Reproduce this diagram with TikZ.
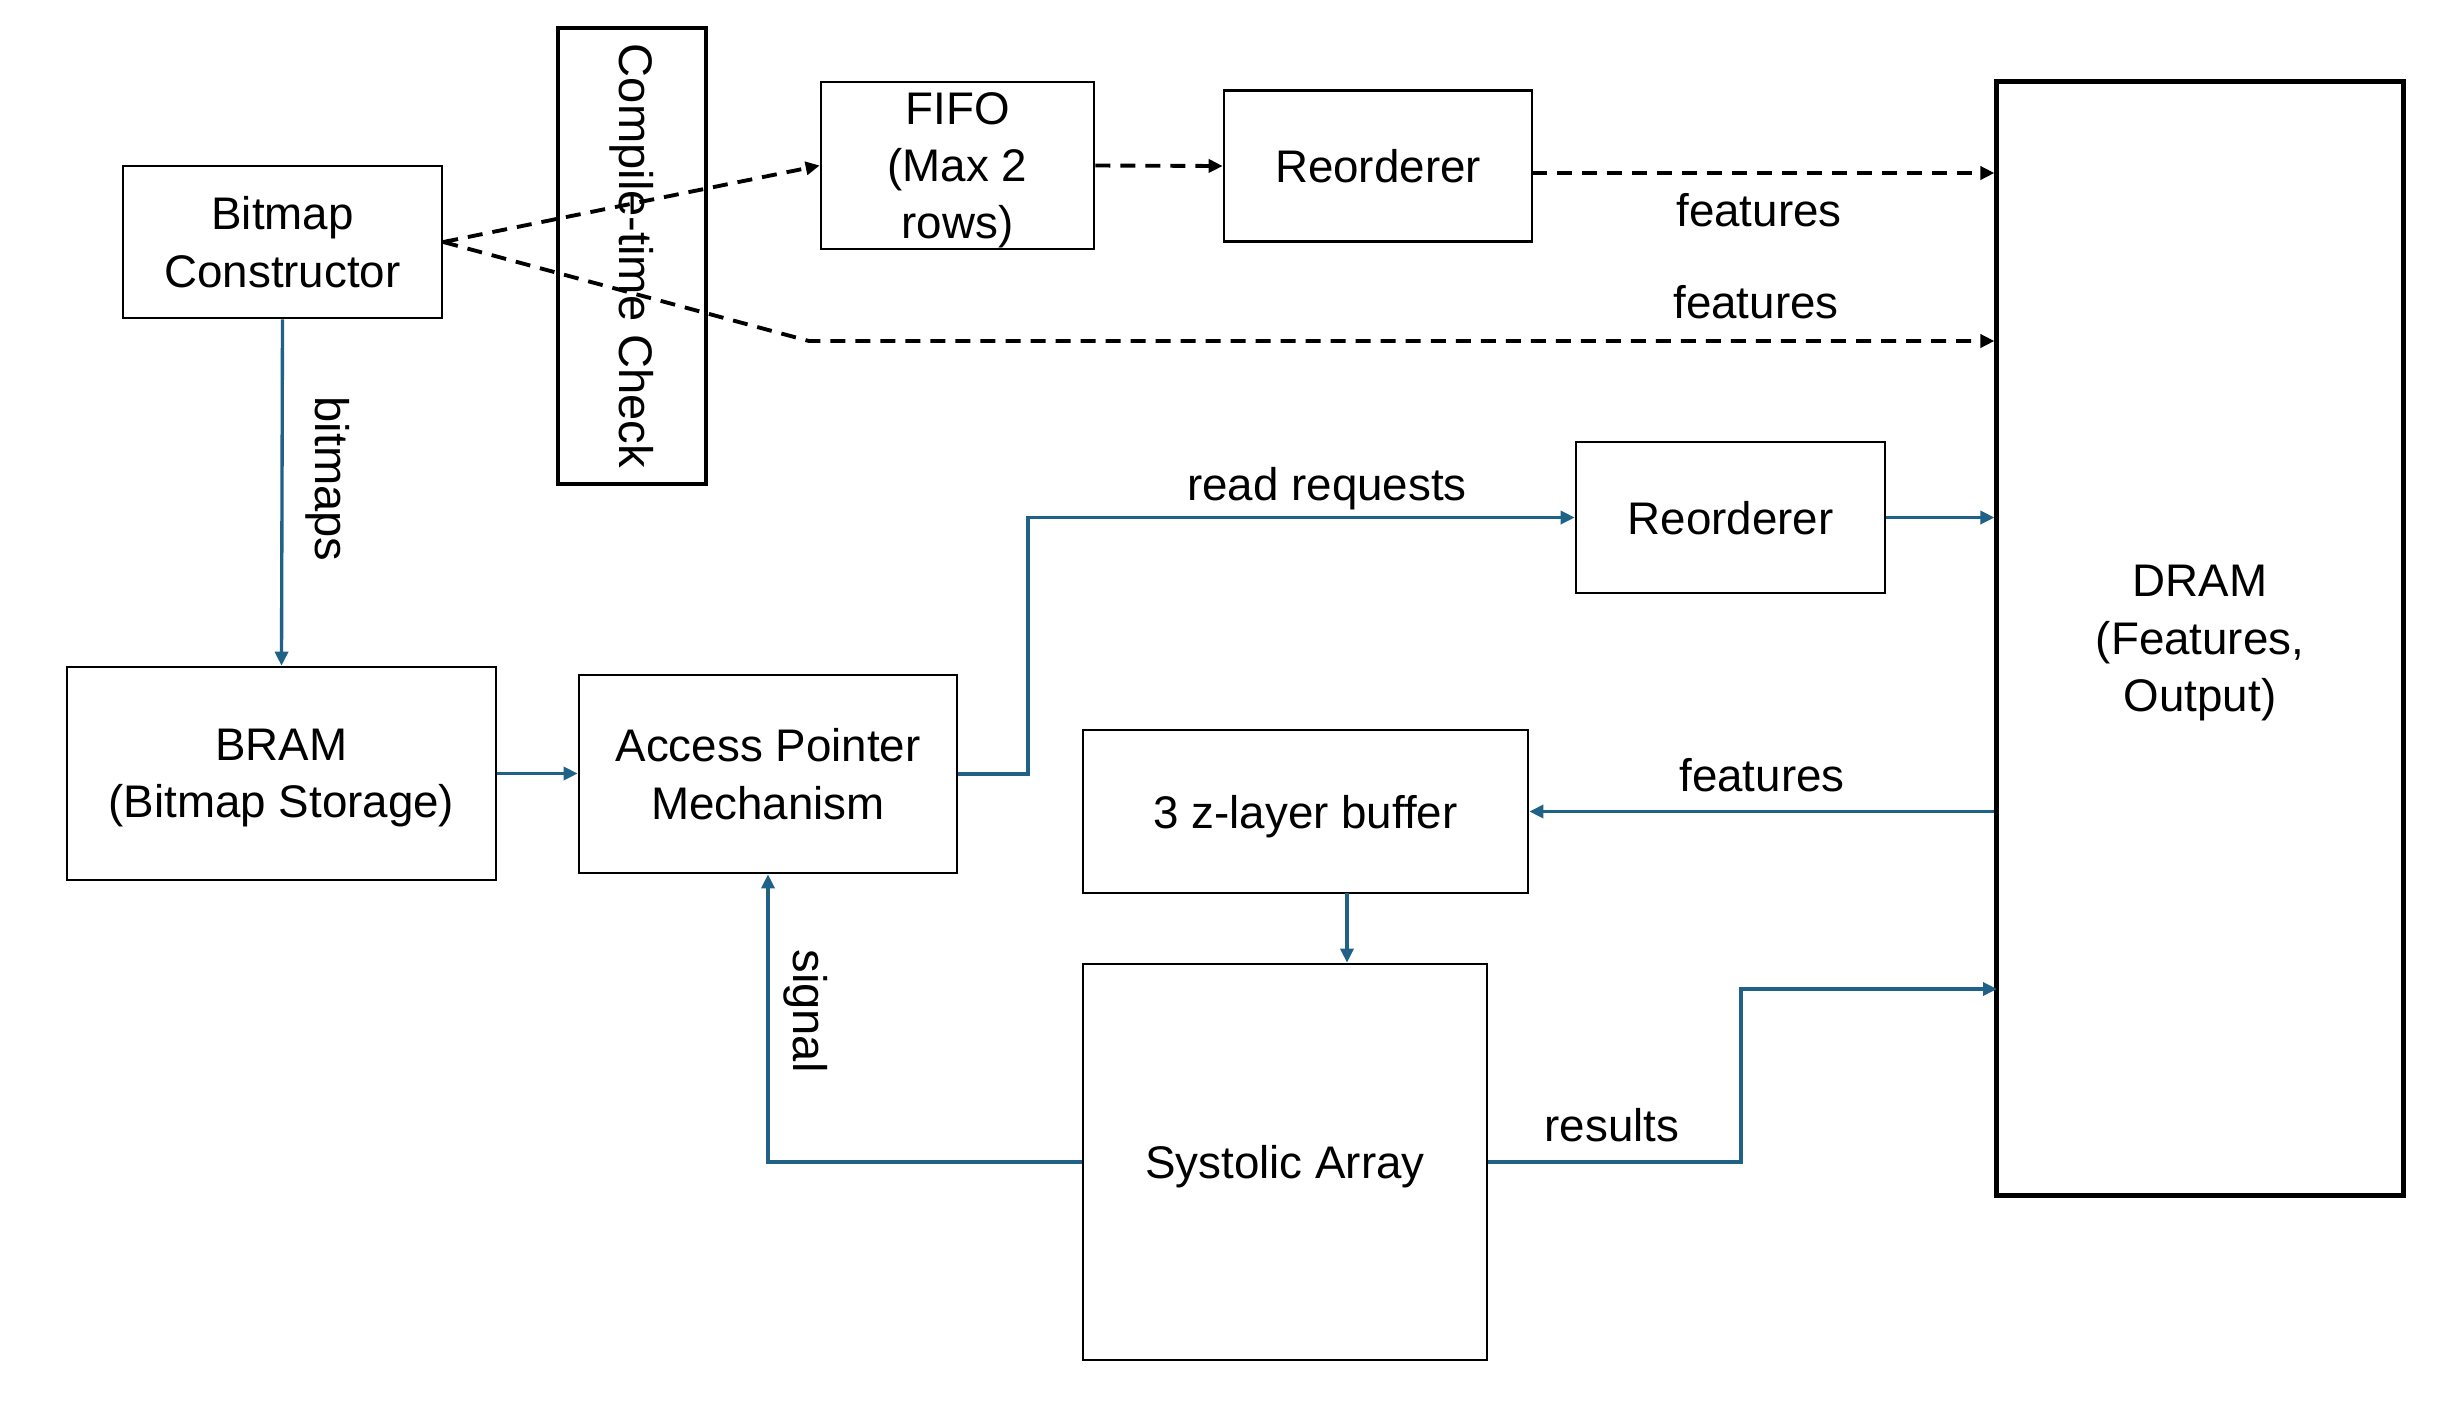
\documentclass[tikz,border=0pt]{standalone}
\usepackage{fontspec}
\setmainfont{Liberation Sans}
\usetikzlibrary{calc}
\usetikzlibrary{arrows.meta}
\definecolor{linkblue}{RGB}{31,97,135}
\tikzstyle{blk} = [draw, line width=0.7pt, align=center, inner sep=0pt, text depth=0pt]
\tikzstyle{bigblk} = [draw, line width=1.4pt, align=center, inner sep=0pt]
\tikzstyle{datalink} = [draw=linkblue, line width=0.95pt, -{Triangle[length=0.14cm,width=0.13cm]}]
\tikzstyle{ctrllink} = [draw=black, line width=1.1pt, dash pattern=on 0.15cm off 0.1cm, -{Triangle[length=0.14cm,width=0.13cm]}]
\tikzstyle{lbl} = [inner sep=0pt, align=center]

\begin{document}
\begin{tikzpicture}[x=0.01cm, y=-0.01cm, font=\fontsize{13}{16.3}\selectfont]
    \useasboundingbox (0,0) rectangle (2439,1405);

    % blocks
    \node[blk, minimum width=3.19cm, minimum height=1.52cm] (bmp_ctor) at (282.5,242) {Bitmap\\Constructor};
    \node[bigblk, line width=1.2pt, rotate=-90, minimum width=4.55cm, minimum height=1.48cm, font=\fontsize{13.4}{16.3}\selectfont] (ct_check) at (632,256) {Compile-time Check};
    \node[blk, minimum width=2.73cm, minimum height=1.67cm] (fifo) at (957.5,165.5) {FIFO\\(Max 2\\rows)};
    \node[blk, minimum width=3.08cm, minimum height=1.51cm] (reord_a) at (1378,166) {Reorderer};
    \node[bigblk, text depth=0pt, minimum width=4.06cm, minimum height=11.13cm] (dram) at (2200,638.5) {DRAM\\(Features,\\Output)};
    \node[blk, minimum width=3.09cm, minimum height=1.51cm] (reord_b) at (1730.5,517.5) {Reorderer};
    \node[blk, minimum width=4.29cm, minimum height=2.13cm] (bram) at (281.5,773.5) {BRAM\\(Bitmap Storage)};
    \node[blk, minimum width=3.78cm, minimum height=1.98cm] (acc_ptr) at (768,774) {Access Pointer\\Mechanism};
    \node[blk, minimum width=4.45cm, minimum height=1.63cm] (zbuf) at (1305.5,811.5) {3 z-layer buffer};
    \node[blk, minimum width=4.04cm, minimum height=3.96cm] (systolic) at (1285,1162) {Systolic Array};

    % bends and ends
    \coordinate (feat_bend) at (809,341);
    \coordinate (reord_out) at (1532,173);
    \coordinate (zbuf_out) at (1347,893);
    \coordinate (req_bend) at (1028,774);
    \coordinate (res_bend) at (1741,1162);
    \coordinate (res_in) at (1997,989);

    % dashed feature paths
    \draw[ctrllink] (bmp_ctor.east) -- (fifo.west);
    \draw[ctrllink] (bmp_ctor.east) -- (feat_bend) -- (feat_bend -| dram.west);
    \draw[ctrllink] (fifo.east) -- (reord_a.west);
    \draw[ctrllink] (reord_out) -- (reord_out -| dram.west);

    % data paths
    \draw[datalink] (bmp_ctor.south) -- (bram.north);
    \draw[datalink] (bram.east) -- (acc_ptr.west |- bram.east);
    \draw[datalink] (acc_ptr.east) -- (req_bend) |- (reord_b.west);
    \draw[datalink] (reord_b.east) -- (reord_b.east -| dram.west);
    \draw[datalink] (dram.west |- zbuf.east) -- (zbuf.east);
    \draw[datalink] (zbuf_out) -- (zbuf_out |- systolic.north);
    \draw[datalink] (systolic.west) -| (acc_ptr.south);
    \draw[datalink] (systolic.east) -- (res_bend) |- (res_in);

    % labels
    \node[lbl] (lbl_feat_a) at (1759,210) {features};
    \node[lbl] (lbl_feat_b) at (1756,302) {features};
    \node[lbl, rotate=-90, font=\fontsize{13.4}{16.3}\selectfont] (lbl_bitmaps) at (328,479) {bitmaps};
    \node[lbl] (lbl_req) at (1327,489) {read requests};
    \node[lbl] (lbl_feat_c) at (1762,775) {features};
    \node[lbl, rotate=-90, font=\fontsize{13.4}{16.3}\selectfont] (lbl_signal) at (806,1011) {signal};
    \node[lbl] (lbl_res) at (1612,1125) {results};
\end{tikzpicture}
\end{document}
